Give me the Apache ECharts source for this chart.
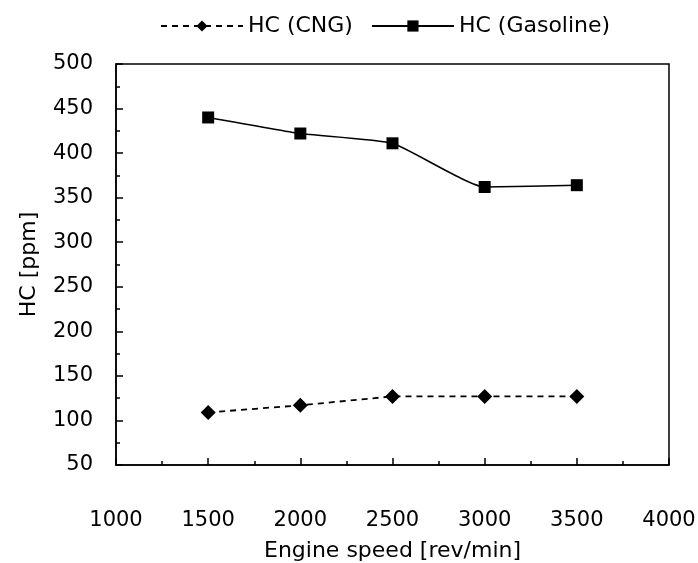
<!DOCTYPE html>
<html><head><meta charset="utf-8">
<script src="https://cdn.jsdelivr.net/npm/echarts@6/dist/echarts.min.js"></script>
<style>html,body{margin:0;padding:0;background:#fff}#c{width:698px;height:563px}</style>
</head><body><div id="c"></div>
<script>
const speeds = [1500, 2000, 2500, 3000, 3500];
const hcCNG = [109, 117, 127, 127, 127];
const hcGasoline = [440, 422, 411, 362, 364];
const seriesNames = ['HC (CNG)', 'HC (Gasoline)'];
const xAxisTitle = 'Engine speed [rev/min]';
const yAxisTitle = 'HC [ppm]';

const FONT = 'DejaVu Sans';
const chart = echarts.init(document.getElementById('c'), null, {renderer: 'canvas'});
chart.setOption({
  backgroundColor: '#fff',
  animation: false,
  textStyle: {fontFamily: FONT, color: '#000'},
  legend: {
    top: 10, left: 155,
    itemWidth: 82, itemHeight: 14, itemGap: 18,
    textStyle: {fontFamily: FONT, fontSize: 22, color: '#000'},
    data: seriesNames
  },
  grid: {left: 116, top: 64, right: 29, bottom: 98, show: true, borderColor: '#000', borderWidth: 1.5,
         containLabel: false, outerBoundsMode: 'none'},
  xAxis: {
    type: 'value', min: 1000, max: 4000, interval: 500,
    name: xAxisTitle, nameLocation: 'middle', nameGap: 75,
    nameTextStyle: {fontFamily: FONT, fontSize: 22, color: '#000'},
    axisLine: {lineStyle: {color: '#000', width: 1.5}},
    axisTick: {inside: true, length: 7, lineStyle: {color: '#000', width: 1.5}},
    minorTick: {show: true, splitNumber: 2, length: 4, lineStyle: {color: '#000', width: 1.5}},
    axisLabel: {fontFamily: FONT, fontSize: 21, color: '#000', margin: 45, formatter: v => String(v)},
    splitLine: {show: false}
  },
  yAxis: {
    type: 'value', min: 50, max: 500, interval: 50,
    name: yAxisTitle, nameLocation: 'middle', nameGap: 76, nameRotate: 90,
    nameTextStyle: {fontFamily: FONT, fontSize: 22, color: '#000'},
    axisLine: {lineStyle: {color: '#000', width: 1.5}},
    axisTick: {inside: true, length: 7, lineStyle: {color: '#000', width: 1.5}},
    minorTick: {show: true, splitNumber: 2, length: 4, lineStyle: {color: '#000', width: 1.5}},
    axisLabel: {fontFamily: FONT, fontSize: 21, color: '#000', margin: 23},
    splitLine: {show: false}
  },
  series: [
    {
      name: seriesNames[0], type: 'line',
      data: speeds.map((s, i) => [s, hcCNG[i]]),
      symbol: 'diamond', symbolSize: 15,
      itemStyle: {color: '#000'},
      lineStyle: {color: '#000', width: 1.8, type: [6, 5]}
    },
    {
      name: seriesNames[1], type: 'line',
      data: speeds.map((s, i) => [s, hcGasoline[i]]),
      symbol: 'rect', symbolSize: 12, smooth: 0.15,
      itemStyle: {color: '#000'},
      lineStyle: {color: '#000', width: 1.5}
    }
  ]
});
</script></body></html>
